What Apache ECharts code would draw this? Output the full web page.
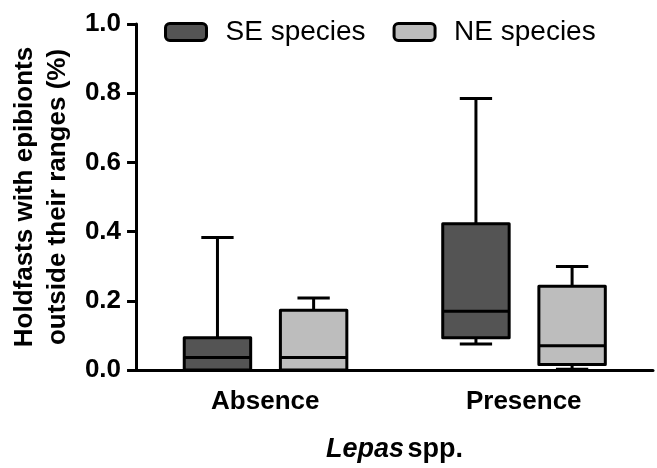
<!DOCTYPE html>
<html>
<head>
<meta charset="utf-8">
<script src="https://cdn.jsdelivr.net/npm/echarts@6/dist/echarts.min.js"></script>
<style>
  html, body { margin: 0; padding: 0; background: #fff; }
  #main { width: 657px; height: 468px; }
</style>
</head>
<body>
<div id="main"></div>
<script>
// categories on the x axis
var categories = ["Absence", "Presence"];
// box stats per category: [min, Q1, median, Q3, max]
var seSpecies = [
  [0, 0, 0.036, 0.093, 0.383],
  [0.075, 0.093, 0.17, 0.423, 0.785]
];
var neSpecies = [
  [0, 0, 0.036, 0.173, 0.208],
  [0.002, 0.016, 0.07, 0.242, 0.299]
];
var yTicks = [0, 0.2, 0.4, 0.6, 0.8, 1.0];

var FONT = "Liberation Sans";

// box drawing, offset/width as fraction of the category band
function boxRenderer(offset, fill) {
  return function (params, api) {
    var idx = api.value(0);
    var band = api.size([1, 0])[0];
    var cx = api.coord([idx, 0])[0] + offset * band;
    var bw = 0.257 * band;
    var cap = 0.125 * band;
    var y = function (i) { return api.coord([idx, api.value(i)])[1]; };
    var yMin = y(1), yQ1 = y(2), yMed = y(3), yQ3 = y(4), yMax = y(5);
    var ls = { stroke: "#000", lineWidth: 3 };
    return {
      type: "group",
      children: [
        { type: "line", shape: { x1: cx, y1: yQ3, x2: cx, y2: yMax }, style: ls },
        { type: "line", shape: { x1: cx - cap / 2, y1: yMax, x2: cx + cap / 2, y2: yMax }, style: ls },
        { type: "line", shape: { x1: cx, y1: yQ1, x2: cx, y2: yMin }, style: ls },
        { type: "line", shape: { x1: cx - cap / 2, y1: yMin, x2: cx + cap / 2, y2: yMin }, style: ls },
        { type: "rect", shape: { x: cx - bw / 2, y: yQ3, width: bw, height: yQ1 - yQ3 },
          style: { fill: fill, stroke: "#000", lineWidth: 3, lineJoin: "round" } },
        { type: "line", shape: { x1: cx - bw / 2, y1: yMed, x2: cx + bw / 2, y2: yMed }, style: ls }
      ]
    };
  };
}

function toRows(list) {
  return list.map(function (d, i) { return [i].concat(d); });
}

var chart = echarts.init(document.getElementById("main"));
chart.setOption({
  animation: false,
  grid: { left: 124, right: 4, top: 24, bottom: 93 },
  legend: {
    top: 13,
    left: 159,
    itemWidth: 41,
    itemHeight: 17,
    itemGap: 27,
    icon: "roundRect",
    textStyle: { fontFamily: FONT, fontSize: 28, color: "#000", padding: [0, 0, 0, 14] },
    data: [
      { name: "SE species", itemStyle: { color: "#545454", borderColor: "#000", borderWidth: 3 } },
      { name: "NE species", itemStyle: { color: "#bdbdbd", borderColor: "#000", borderWidth: 3 } }
    ]
  },
  xAxis: {
    type: "category",
    data: categories,
    name: "{i|Lepas} {b|spp.}",
    nameLocation: "middle",
    nameGap: 66,
    nameTextStyle: {
      rich: {
        i: { fontFamily: FONT, fontSize: 27, fontWeight: "bold", fontStyle: "italic", color: "#000" },
        b: { fontFamily: FONT, fontSize: 27, fontWeight: "bold", color: "#000" }
      }
    },
    axisLine: { lineStyle: { color: "#000", width: 3 } },
    axisTick: { alignWithLabel: true, length: 9, lineStyle: { color: "#000", width: 3 } },
    axisLabel: { fontFamily: FONT, fontSize: 26, fontWeight: "bold", color: "#000", margin: 19 }
  },
  yAxis: {
    type: "value",
    min: yTicks[0],
    max: yTicks[yTicks.length - 1],
    interval: 0.2,
    name: "Holdfasts with epibionts\noutside their ranges (%)",
    nameLocation: "middle",
    nameRotate: 90,
    nameGap: 52,
    nameTextStyle: { fontFamily: FONT, fontSize: 26, fontWeight: "bold", color: "#000", lineHeight: 33 },
    axisLine: { show: true, lineStyle: { color: "#000", width: 3 } },
    axisTick: { show: true, length: 9, lineStyle: { color: "#000", width: 3 } },
    splitLine: { show: false },
    axisLabel: {
      fontFamily: FONT, fontSize: 26, fontWeight: "bold", color: "#000", margin: 15,
      formatter: function (v) { return v.toFixed(1); }
    }
  },
  series: [
    {
      name: "SE species",
      type: "custom",
      itemStyle: { color: "#545454" },
      renderItem: boxRenderer(-0.185, "#545454"),
      encode: { x: 0, y: [1, 2, 3, 4, 5] },
      data: toRows(seSpecies)
    },
    {
      name: "NE species",
      type: "custom",
      itemStyle: { color: "#bdbdbd" },
      renderItem: boxRenderer(0.187, "#bdbdbd"),
      encode: { x: 0, y: [1, 2, 3, 4, 5] },
      data: toRows(neSpecies)
    }
  ]
});
</script>
</body>
</html>
